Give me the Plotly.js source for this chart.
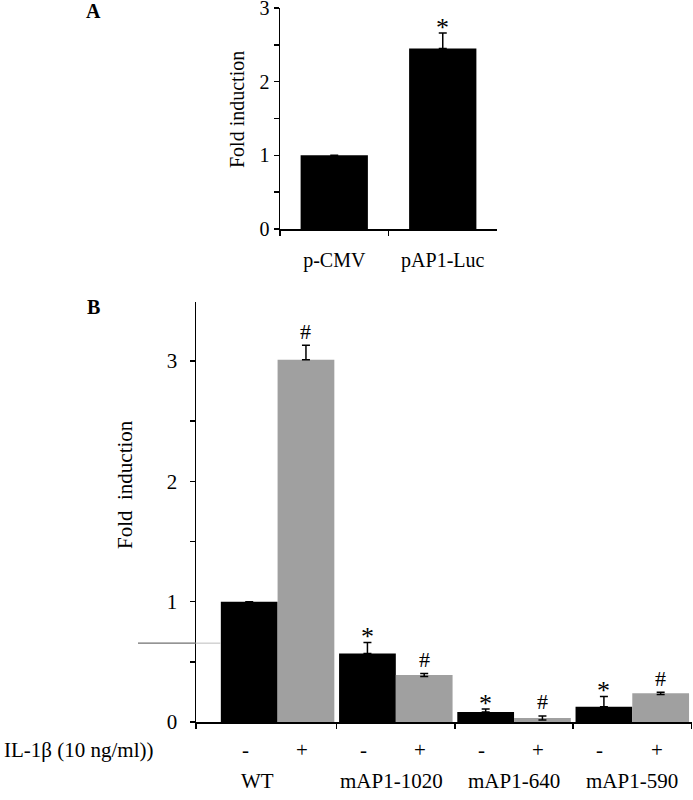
<!DOCTYPE html>
<html>
<head>
<meta charset="utf-8">
<script src="https://cdn.plot.ly/plotly-3.0.1.min.js"></script>
<style>
  body { margin: 0; background: #fff; }
  #chart { width: 693px; height: 800px; }
</style>
</head>
<body>
<div id="chart"></div>
<script>
// panel A
const A_LABELS = ["p-CMV", "pAP1-Luc"];
const A_VALUES = [1.0, 2.45];
const A_ERR = [0, 0.21];
const A_MARKS = ["", "*"];

// panel B
const B_GROUPS = ["WT", "mAP1-1020", "mAP1-640", "mAP1-590"];
const B_CTRL = [1.0, 0.57, 0.083, 0.127];
const B_CTRL_ERR = [0, 0.09, 0.025, 0.085];
const B_IL1 = [3.01, 0.39, 0.033, 0.238];
const B_IL1_ERR_UP = [0.12, 0.012, 0.017, 0.01];
const B_IL1_ERR_DN = [0, 0.012, 0.017, 0.01];
const B_CTRL_MARKS = ["", "*", "*", "*"];
const B_IL1_MARKS = ["#", "#", "#", "#"];
const B_SIGNS = ["-", "+"];
const B_TREAT = "IL-1β (10 ng/ml))";
const B_GUIDE = 0.655;   // stray grey line left of the WT bar

const FONT = "Liberation Serif, Times New Roman, serif";
const W = 693, H = 800;
const GREY = "#a0a0a0";
const HALF = 0.24;       // offset of a grouped bar from its group centre

function px(x) { return x / W; }
function py(y) { return 1 - y / H; }

const idx = B_GROUPS.map((g, i) => i);

var traces = [
    {
        type: "bar", x: A_LABELS, y: A_VALUES, xaxis: "x", yaxis: "y",
        marker: { color: "#000" }, width: 0.62,
        error_y: { type: "data", symmetric: false, array: A_ERR, arrayminus: A_ERR.map(() => 0),
                   color: "#000", thickness: 1.5, width: 4 },
        hoverinfo: "skip"
    },
    {
        type: "bar", x: idx, y: B_CTRL, xaxis: "x2", yaxis: "y2", offsetgroup: "ctrl",
        marker: { color: "#000" },
        error_y: { type: "data", symmetric: false, array: B_CTRL_ERR, arrayminus: B_CTRL_ERR.map(() => 0),
                   color: "#000", thickness: 1.5, width: 4 },
        hoverinfo: "skip"
    },
    {
        type: "bar", x: idx, y: B_IL1, xaxis: "x2", yaxis: "y2", offsetgroup: "il1",
        marker: { color: GREY },
        error_y: { type: "data", symmetric: false, array: B_IL1_ERR_UP, arrayminus: B_IL1_ERR_DN,
                   color: "#000", thickness: 1.5, width: 4 },
        hoverinfo: "skip"
    }
];

var annotations = [];
var txt = { family: FONT, size: 20, color: "#000" };
var txtB = { family: FONT, size: 21, color: "#000" };
var star = { family: FONT, size: 26, color: "#000" };
var hash = { family: FONT, size: 22, color: "#000" };

// significance marks
A_MARKS.forEach((m, i) => {
    if (!m) return;
    annotations.push({ xref: "x", yref: "y", x: A_LABELS[i], y: A_VALUES[i] + A_ERR[i],
        text: m, showarrow: false, yanchor: "middle", yshift: 6, font: star });
});
idx.forEach(i => {
    if (B_CTRL_MARKS[i]) {
        annotations.push({ xref: "x2", yref: "y2", x: i - HALF, y: B_CTRL[i] + B_CTRL_ERR[i],
            text: B_CTRL_MARKS[i], showarrow: false, yanchor: "middle", yshift: 6, font: star });
    }
    if (B_IL1_MARKS[i]) {
        annotations.push({ xref: "x2", yref: "y2", x: i + HALF, y: B_IL1[i] + B_IL1_ERR_UP[i],
            text: B_IL1_MARKS[i], showarrow: false, yanchor: "middle", yshift: 14, font: hash });
    }
    // - / + row
    B_SIGNS.forEach((s, k) => {
        annotations.push({ xref: "x2", yref: "paper", x: i + (k ? HALF : -HALF), y: py(750),
            text: s, showarrow: false, xshift: -4, yanchor: "middle", font: txtB });
    });
    // construct names
    annotations.push({ xref: "x2", yref: "paper", x: i, y: py(781),
        text: B_GROUPS[i], showarrow: false, xshift: i == 0 ? -20 : (i == 1 ? -4 : 0),
        yanchor: "middle", font: txtB });
});

annotations.push({ xref: "paper", yref: "paper", x: 0, y: py(750), xanchor: "left", xshift: 2,
    text: B_TREAT, showarrow: false, yanchor: "middle", font: txtB });

// axis titles and panel letters
annotations.push({ xref: "paper", yref: "paper", x: px(237), y: py(110), text: "Fold induction",
    textangle: -90, showarrow: false, xanchor: "center", yanchor: "middle", font: txt });
annotations.push({ xref: "paper", yref: "paper", x: px(125), y: py(485), text: "Fold  induction",
    textangle: -90, showarrow: false, xanchor: "center", yanchor: "middle", font: txtB });
annotations.push({ xref: "paper", yref: "paper", x: px(93), y: 1, text: "<b>A</b>",
    showarrow: false, xanchor: "center", yanchor: "top", yshift: 2, font: { family: FONT, size: 20, color: "#000" } });
annotations.push({ xref: "paper", yref: "paper", x: px(93), y: py(307), text: "<b>B</b>",
    showarrow: false, xanchor: "center", yanchor: "middle", font: { family: FONT, size: 20, color: "#000" } });

var axisStyle = {
    showgrid: false, zeroline: false, showline: true, linecolor: "#000", linewidth: 1.5,
    ticks: "outside", ticklen: 5, tickwidth: 1.5, tickcolor: "#000",
    tickfont: { family: FONT, size: 20, color: "#000" }, fixedrange: true,
    ticklabeloverflow: "allow"
};

var layout = {
    width: W, height: H,
    margin: { l: 0, r: 0, t: 0, b: 0 },
    paper_bgcolor: "#fff", plot_bgcolor: "#fff",
    showlegend: false,
    barmode: "group", bargap: 0.04, bargroupgap: 0,
    font: { family: FONT, size: 20, color: "#000" },
    xaxis: Object.assign({}, axisStyle, {
        domain: [px(280), px(497)], anchor: "y", type: "category",
        range: [-0.5, 1.5], tickson: "boundaries", ticklabelstandoff: 12
    }),
    yaxis: Object.assign({}, axisStyle, {
        domain: [py(229), py(8)], anchor: "x", range: [0, 3],
        tickvals: [0, 1, 2, 3], ticklabelstandoff: 0,
        minor: { tickvals: [0.5, 1.5, 2.5], ticks: "outside", ticklen: 5, tickwidth: 1.5, tickcolor: "#000" }
    }),
    xaxis2: Object.assign({}, axisStyle, {
        domain: [px(196), px(692)], anchor: "y2",
        range: [-0.69, 3.505], tickvals: [-0.69, 0.5, 1.5, 2.5, 3.5], showticklabels: false
    }),
    yaxis2: Object.assign({}, axisStyle, {
        domain: [py(722), py(302)], anchor: "x2", range: [0, 3.49],
        tickvals: [0, 1, 2, 3], ticklabelstandoff: 8,
        tickfont: { family: FONT, size: 21, color: "#000" },
        minor: { tickvals: [0.5, 1.5, 2.5], ticks: "outside", ticklen: 5, tickwidth: 1.5, tickcolor: "#000" }
    }),
    shapes: [
        { type: "line", xref: "paper", yref: "y2", x0: px(138), x1: px(196), y0: B_GUIDE, y1: B_GUIDE,
          line: { color: "#707070", width: 1.2 } },
        { type: "line", xref: "paper", yref: "y2", x0: px(196), x1: px(221), y0: B_GUIDE, y1: B_GUIDE,
          line: { color: "#c8c8c8", width: 1.2 } }
    ],
    annotations: annotations
};

Plotly.newPlot("chart", traces, layout, { staticPlot: true, displayModeBar: false });
</script>
</body>
</html>
